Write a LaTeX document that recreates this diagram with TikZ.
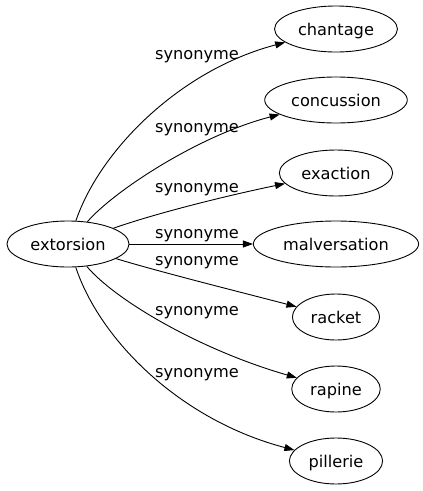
\documentclass[tikz,border=0pt]{standalone}
\usepackage{fontspec}
\setmainfont{DejaVu Sans}
\usetikzlibrary{arrows.meta,shapes.geometric}

\begin{document}
\begin{tikzpicture}[x=1pt,y=-1pt,font=\fontsize{16.2}{19}\selectfont,
    mot/.style={ellipse,draw,line width=0.9pt,inner xsep=5.5pt,inner ysep=0pt,
        minimum height=46pt,text height=16pt,text depth=3pt},
    lien/.style={line width=0.9pt,-{Triangle[length=10pt,width=7pt]}},
    syn/.style={anchor=base,inner sep=0pt}]
    \useasboundingbox (0,0) rectangle (423,491);
    \pgfmathsetmacro{\xr}{336}
    \pgfmathsetmacro{\xs}{197}

    \node[mot] (ext) at (68,244) {extorsion};
    \node[mot] (chan) at (\xr,29) {chantage};
    \node[mot] (conc) at (\xr,100) {concussion};
    \node[mot] (exa) at (\xr,173) {exaction};
    \node[mot] (malv) at (\xr,244) {malversation};
    \node[mot] (rack) at (\xr,317) {racket};
    \node[mot] (rap) at (\xr,389) {rapine};
    \node[mot] (pill) at (\xr,461) {pillerie};

    % labels
    \node[syn] (s1) at (\xs,59) {synonyme};
    \node[syn] (s2) at (\xs,132) {synonyme};
    \node[syn] (s3) at (\xs,192) {synonyme};
    \node[syn] (s4) at (\xs,238) {synonyme};
    \node[syn] (s5) at (\xs,265) {synonyme};
    \node[syn] (s6) at (\xs,315) {synonyme};
    \node[syn] (s7) at (\xs,377) {synonyme};

    \draw[lien] (ext) .. controls (100,150) and (180,70) .. (chan);
    \draw[lien] (ext) .. controls (115,190) and (200,135) .. (conc);
    \draw[lien] (ext) .. controls (160,212) and (230,195) .. (exa);
    \draw[lien] (ext) -- (malv);
    \draw[lien] (ext) .. controls (160,272) and (240,292) .. (rack);
    \draw[lien] (ext) .. controls (115,300) and (200,350) .. (rap);
    \draw[lien] (ext) .. controls (100,340) and (180,420) .. (pill);

\end{tikzpicture}
\end{document}
